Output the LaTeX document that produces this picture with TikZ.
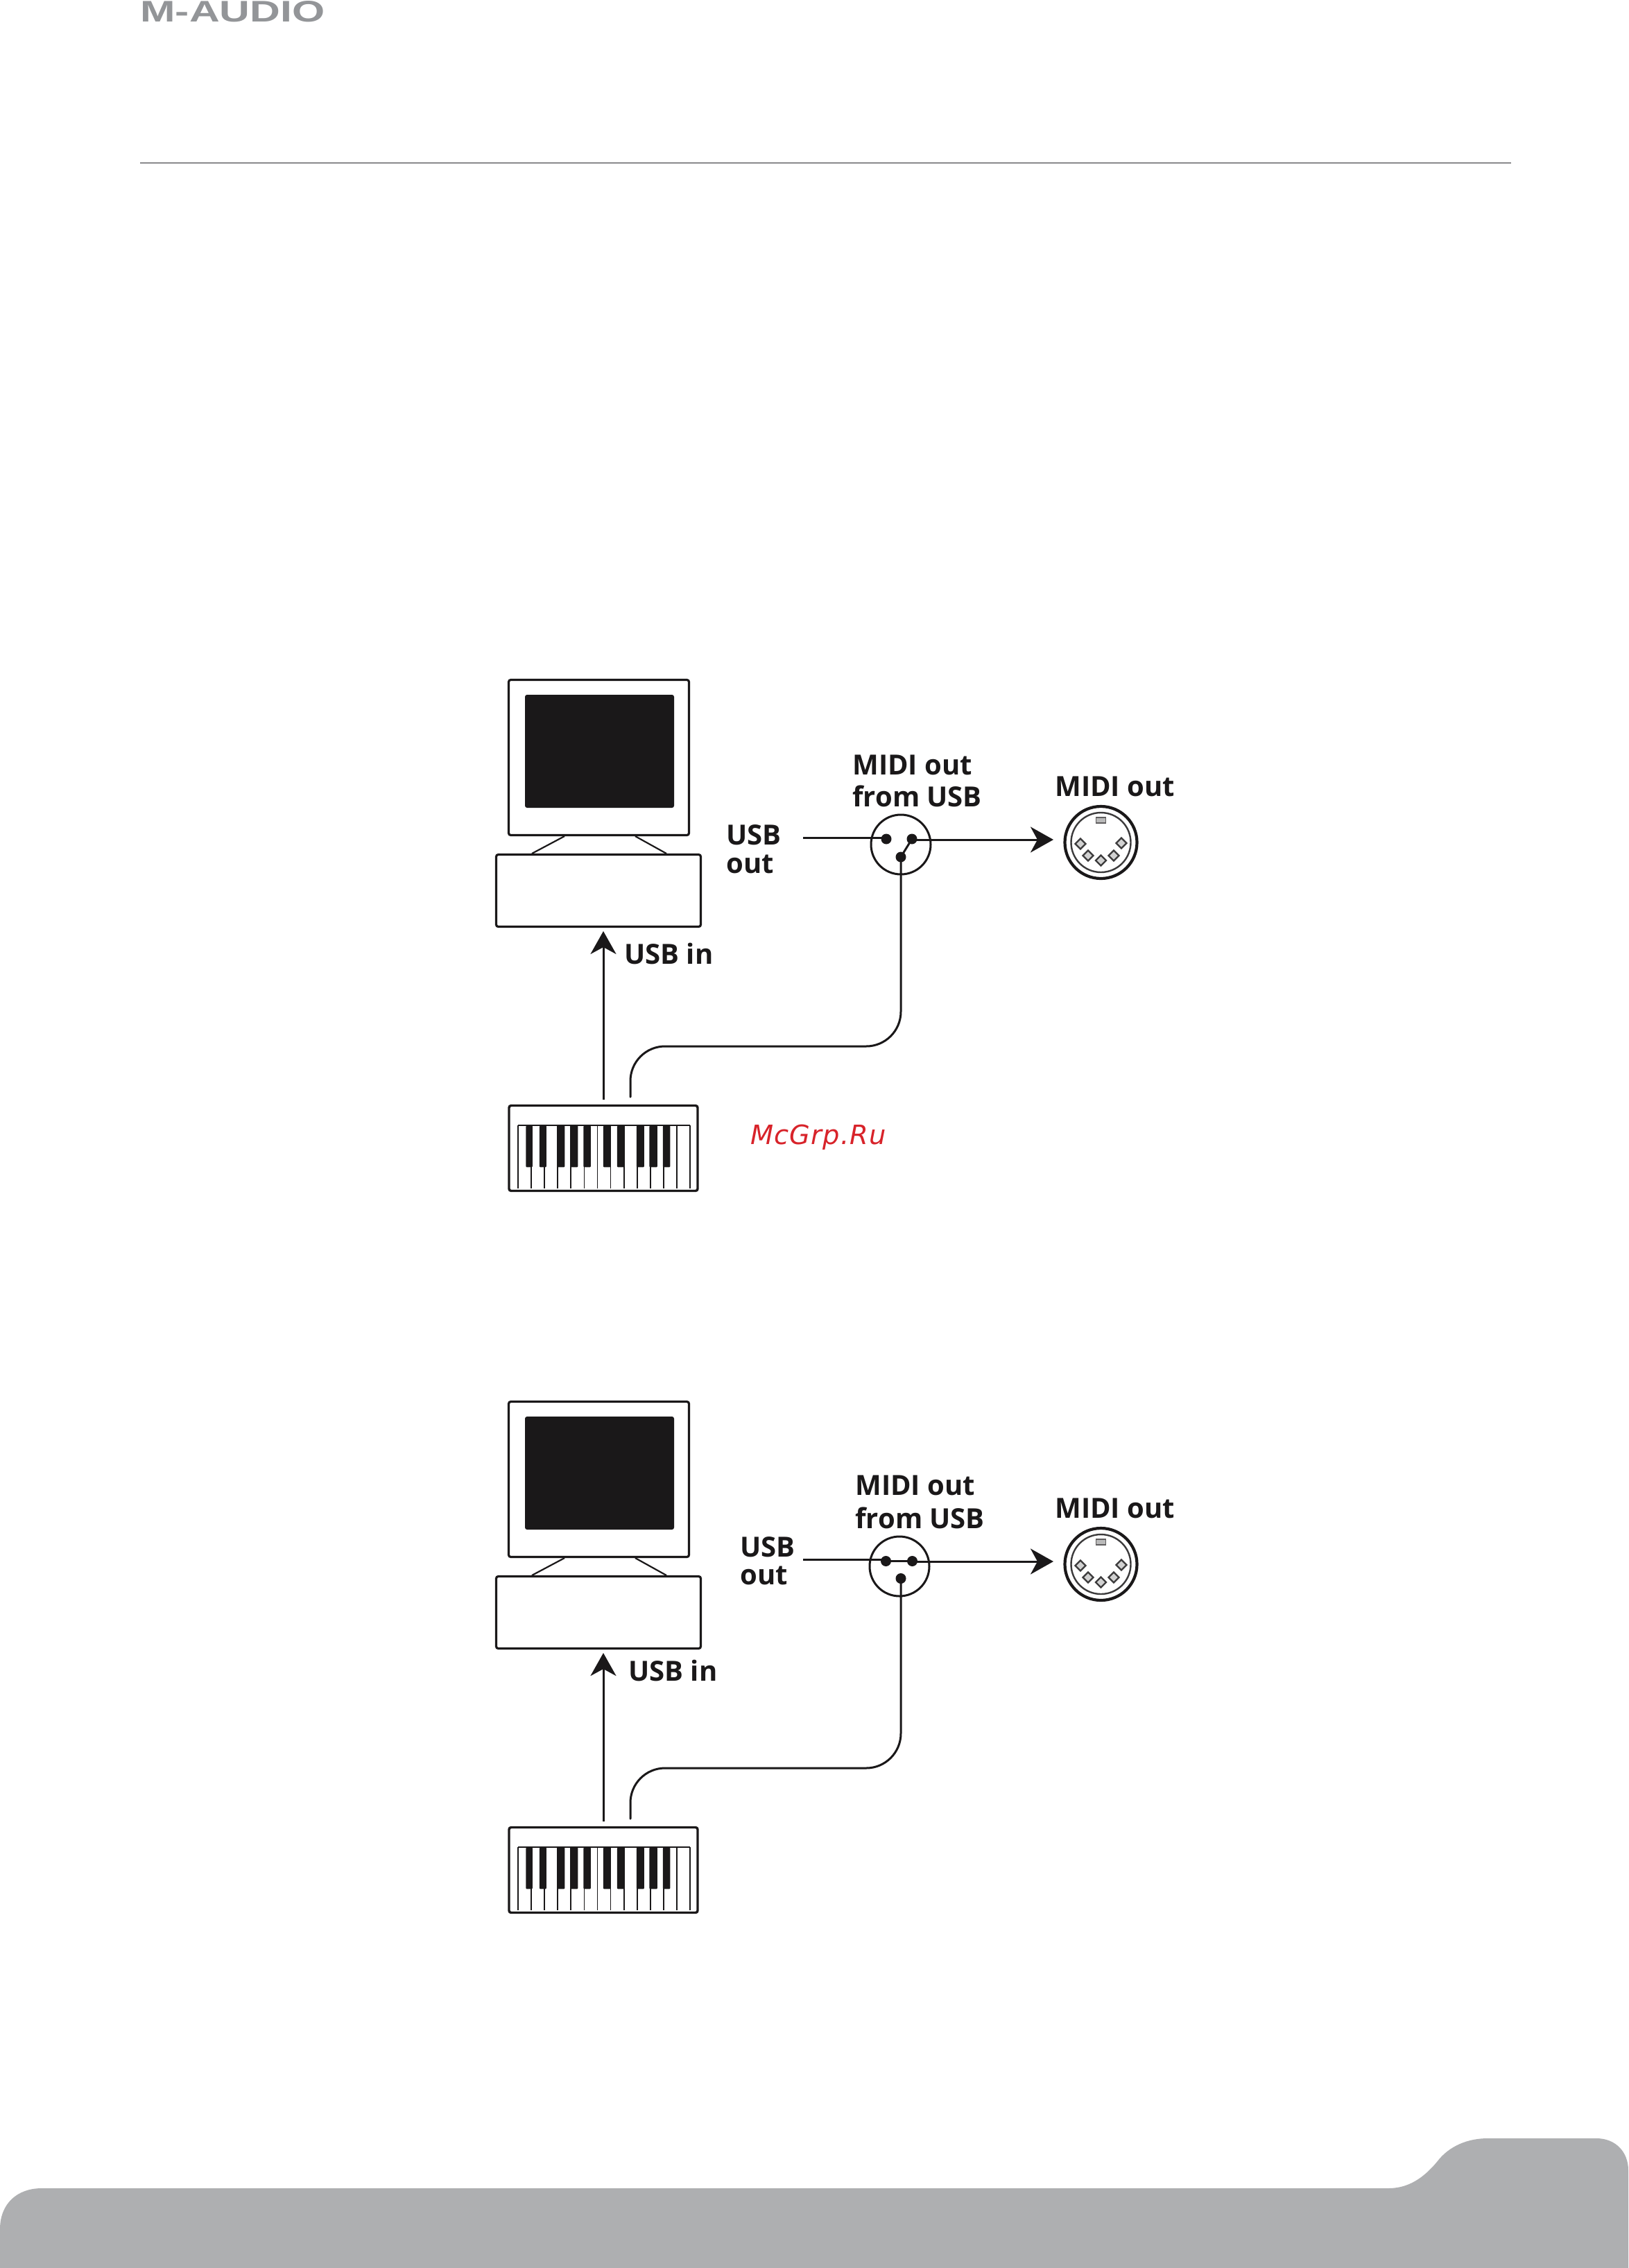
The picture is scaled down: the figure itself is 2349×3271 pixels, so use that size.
\documentclass[tikz,border=0pt]{standalone}
\usepackage{fontspec}
\setmainfont{Open Sans}
\newfontfamily\wmfont{DejaVu Sans}[LetterSpace=3]
\newfontfamily\logofont{Liberation Sans}
\usetikzlibrary{arrows.meta,shapes.geometric}
\definecolor{ink}{HTML}{1A1819}
\definecolor{greyband}{HTML}{AEAFB1}
\definecolor{logogrey}{HTML}{939598}
\definecolor{rulegrey}{HTML}{8A8A8C}
\definecolor{wmred}{HTML}{D8232A}
\tikzset{
  box/.style={draw=ink,line width=1.6pt,rectangle,rounded corners=1.5pt,inner sep=0pt,fill=white},
  wire/.style={draw=ink,line width=1.5pt},
  thin wire/.style={draw=ink,line width=1.1pt},
  arrowed/.style={wire,-{Stealth[length=16.5pt,width=18.5pt,inset=5pt]}},
  dot/.style={circle,fill=ink,inner sep=0pt,minimum size=7.5pt},
  lab/.style={anchor=base west,inner sep=0pt,text=ink,font=\fontsize{20}{24}\selectfont\bfseries},
  whitekey/.style={draw=ink,line width=0.9pt},
  blackkey/.style={rectangle,fill=ink,inner sep=0pt,rounded corners=0.6pt,anchor=north west},
  din pin/.style={diamond,draw=ink!85,fill=ink!20,line width=1.2pt,inner sep=0pt,minimum size=8pt},
}
\newcommand{\blackk}[2]{\node[blackkey,minimum width={(#2-#1)*0.5pt},minimum height=30pt] (bk#1) at (#1,1623) {};}
\newcommand{\equipment}{%
  % monitor
  \node[box,minimum width=130pt,minimum height=112pt] (monitor) at (863.5,1092.5) {};
  \node[rectangle,fill=ink,rounded corners=1.5pt,inner sep=0pt,minimum width=107.5pt,minimum height=81.5pt] (screen) at (864.5,1083.5) {};
  \node[box,minimum width=147.5pt,minimum height=52pt] (basebox) at (863,1284.5) {};
  \coordinate (s1a) at (814,1206); \coordinate (s1b) at (767,1231);
  \coordinate (s2a) at (916,1206); \coordinate (s2b) at (961,1231);
  \draw[thin wire] (s1a) -- (s1b);
  \draw[thin wire] (s2a) -- (s2b);
  % keyboard
  \node[box,minimum width=136pt,minimum height=61.5pt,line width=1.7pt] (keys) at (870,1656) {};
  \foreach \i in {0,...,13}{
    \coordinate (wt\i) at ({747+19.08*\i},1623);
    \coordinate (wb\i) at ({747+19.08*\i},1714);
    \draw[whitekey] (wt\i) -- (wb\i);
  }
  \draw[whitekey] (wt0) -- (wt13);
  \blackk{758}{767.5}\blackk{777.5}{787.5}\blackk{803}{814}\blackk{822.5}{833}\blackk{841}{851.5}
  \blackk{869.5}{880.5}\blackk{889.5}{900}\blackk{917.5}{928.5}\blackk{936}{947.5}\blackk{955.5}{966}
  % DIN socket
  \node[circle,draw=ink,line width=2.1pt,inner sep=0pt,minimum size=52pt] (din) at (1587.5,1215) {};
  \node[circle,draw=ink!85,line width=1.2pt,inner sep=0pt,minimum size=43pt] (dinring) at (din) {};
  \node[rectangle,draw=ink!70,fill=ink!30,line width=0.6pt,inner sep=0pt,minimum width=7pt,minimum height=4pt] (notch) at (1587.5,1183) {};
  \node[din pin] (p1) at (1558,1217) {};
  \node[din pin] (p2) at (1569,1234) {};
  \node[din pin] (p3) at (1587.5,1241) {};
  \node[din pin] (p4) at (1606,1234) {};
  \node[din pin] (p5) at (1617,1216) {};
  % labels on the socket
  \node[lab] (midir) at (1521,1148) {MIDI out};
}
\begin{document}
\begin{tikzpicture}[x=0.5pt,y=-0.5pt]
\useasboundingbox (0,0) rectangle (2349,3271);
\fill[white] (0,0) rectangle (2349,3271);
% header
\node[anchor=north west,inner sep=0pt,text=logogrey] (logo) at (202,1)
  {\resizebox{133pt}{15pt}{\logofont\bfseries M-AUDIO}};
\coordinate (ruleL) at (202,235); \coordinate (ruleR) at (2179,235);
\draw[rulegrey,line width=1.2pt] (ruleL) -- (ruleR);
% footer band
\fill[greyband] (0,3271) -- (0,3215) .. controls (0,3178) and (25,3156) .. (60,3156)
  -- (2002,3156) .. controls (2030,3156) and (2052,3142) .. (2072,3118)
  .. controls (2090,3094) and (2118,3084) .. (2145,3084)
  -- (2302,3084) .. controls (2330,3084) and (2348,3104) .. (2348,3130)
  -- (2348,3271) -- cycle;
% first diagram
\begin{scope}[name prefix=a-]
  \equipment
  \node[dot] (d1) at (1278,1210) {};
  \node[dot] (d2) at (1315,1210) {};
  \node[dot] (d3) at (1299,1236) {};
  \node[circle,draw=ink,line width=1.5pt,inner sep=0pt,minimum width=43pt] (sw) at (1299,1218) {};
  \coordinate (usbstart) at (1158,1208);
  \coordinate (tip) at (1519,1211);
  \coordinate (keyout) at (870,1586);
  \coordinate (basein) at (870,1343);
  \coordinate (cable) at (909,1582);
  \draw[wire] (usbstart) -- (usbstart -| d1);
  \draw[arrowed] (d2.center |- tip) -- (tip);
  \draw[wire] (d3.center) -- (d2.center);
  \draw[arrowed] (keyout) -- (basein);
  \draw[wire,rounded corners=25pt,line cap=round] (cable) -- (909,1509) -- (1299,1509) -- (d3.center);
  \node[lab] (l1) at (1229,1117) {MIDI out};
  \node[lab] (l2) at (1229,1163) {from USB};
  \node[lab] (l3) at (1047,1218) {USB};
  \node[lab] (l4) at (1047,1259) {out};
  \node[lab] (l5) at (900,1390) {USB in};
\end{scope}
% second diagram
\begin{scope}[shift={(0,1041)},name prefix=b-]
  \equipment
  \node[dot] (d1) at (1277.5,1210.5) {};
  \node[dot] (d2) at (1315.5,1210.5) {};
  \node[dot] (d3) at (1299,1235.5) {};
  \node[circle,draw=ink,line width=1.5pt,inner sep=0pt,minimum width=43pt] (sw) at (1297,1218) {};
  \coordinate (usbstart) at (1158,1208);
  \coordinate (tip) at (1519,1211);
  \coordinate (keyout) at (870,1586);
  \coordinate (basein) at (870,1343);
  \coordinate (cable) at (909,1582);
  \draw[wire] (usbstart) -- (usbstart -| d1);
  \draw[wire] (d1.center) -- (d2.center);
  \draw[arrowed] (d2.center |- tip) -- (tip);
  \draw[arrowed] (keyout) -- (basein);
  \draw[wire,rounded corners=25pt,line cap=round] (cable) -- (909,1509) -- (1299,1509) -- (d3.center);
  \node[lab] (l1) at (1233,1115) {MIDI out};
  \node[lab] (l2) at (1233,1163) {from USB};
  \node[lab] (l3) at (1067,1204) {USB};
  \node[lab] (l4) at (1067,1244) {out};
  \node[lab] (l5) at (906,1383) {USB in};
\end{scope}
% watermark
\node[anchor=base west,inner sep=0pt,text=wmred,font=\wmfont\fontsize{19.2}{23}\selectfont\itshape] (wm) at (1082,1650) {McGrp.Ru};
\end{tikzpicture}
\end{document}
